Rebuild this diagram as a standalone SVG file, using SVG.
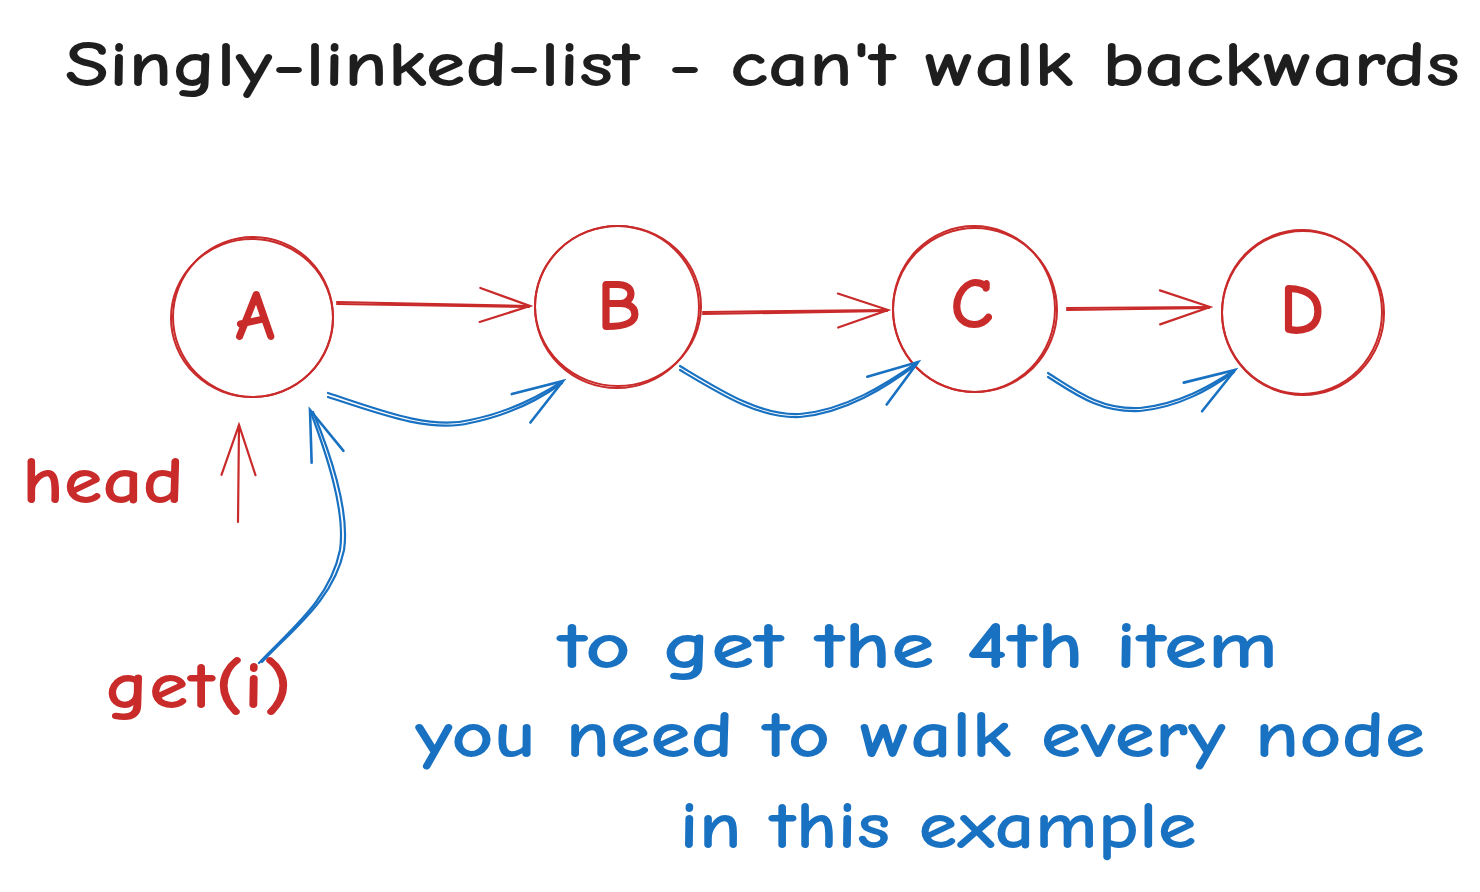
<svg xmlns="http://www.w3.org/2000/svg" width="1480" height="892" viewBox="0 0 1480 892">
<style>
text{font-family:"Comic Neue","Noto Sans","Liberation Sans",sans-serif}
.title{fill:#1e1e1e;font-size:64px;font-weight:600}
.red{fill:#c92a2a}
.blue{fill:#1971c2}
.lbl{font-size:72px;font-weight:bold;text-anchor:middle}
.note{font-size:66px;font-weight:600;text-anchor:middle}
.side{font-size:66px;font-weight:600}
.circ{fill:none;stroke:#c92a2a;stroke-width:2}
.ra{fill:none;stroke:#c92a2a;stroke-width:2.2;stroke-linecap:round}
.ba{fill:none;stroke:#1971c2;stroke-width:2.2;stroke-linecap:round}
</style>
<defs>
<marker id="hr" markerUnits="userSpaceOnUse" viewBox="-60 -30 70 60" refX="0" refY="0" markerWidth="70" markerHeight="60" orient="auto" overflow="visible">
<path d="M-50 -17 L0 0 L-50 17" fill="none" stroke="#c92a2a" stroke-width="2.2" stroke-linecap="round"/>
</marker>
<marker id="hb" markerUnits="userSpaceOnUse" viewBox="-60 -30 70 60" refX="0" refY="0" markerWidth="70" markerHeight="60" orient="auto" overflow="visible">
<path d="M-50 -17 L0 0 L-50 17" fill="none" stroke="#1971c2" stroke-width="2.6" stroke-linecap="round"/>
</marker>
</defs>
<rect width="1480" height="892" fill="#ffffff"/>
<text class="title" x="65" y="86" textLength="1395" lengthAdjust="spacingAndGlyphs">Singly-linked-list - can't walk backwards</text>

<g id="nodeA">
<ellipse class="circ" cx="253" cy="317" rx="80" ry="80"/>
<ellipse class="circ" cx="252" cy="318" rx="81" ry="79"/>
<text class="red lbl" x="255" y="340">A</text>
</g>
<g id="nodeB">
<ellipse class="circ" cx="617" cy="307" rx="82" ry="81"/>
<ellipse class="circ" cx="618" cy="306" rx="83" ry="80"/>
<text class="red lbl" x="619" y="330">B</text>
</g>
<g id="nodeC">
<ellipse class="circ" cx="975" cy="310" rx="82" ry="82"/>
<ellipse class="circ" cx="974" cy="309" rx="81" ry="83"/>
<text class="red lbl" x="972" y="328">C</text>
</g>
<g id="nodeD">
<ellipse class="circ" cx="1303" cy="313" rx="81" ry="82"/>
<ellipse class="circ" cx="1302" cy="312" rx="80" ry="82"/>
<text class="red lbl" x="1302" y="334">D</text>
</g>

<g id="labels">
<text class="red side" x="22" y="503" textLength="162" lengthAdjust="spacingAndGlyphs">head</text>
<text class="red side" x="105" y="708" textLength="187" lengthAdjust="spacingAndGlyphs">get(i)</text>
<text class="blue note" x="918" y="668" textLength="720" lengthAdjust="spacingAndGlyphs">to get the 4th item</text>
<text class="blue note" x="920" y="757" textLength="1010" lengthAdjust="spacingAndGlyphs">you need to walk every node</text>
<text class="blue note" x="938" y="848" textLength="517" lengthAdjust="spacingAndGlyphs">in this example</text>
</g>

<g id="connectors">
<path class="ra" d="M337 302 L530 306" marker-end="url(#hr)"/>
<path class="ra" d="M337 304 L529 307"/>
<path class="ra" d="M703 312 L888 310" marker-end="url(#hr)"/>
<path class="ra" d="M703 314 L887 311"/>
<path class="ra" d="M1067 308 L1210 307" marker-end="url(#hr)"/>
<path class="ra" d="M1067 310 L1209 308"/>
<path class="ra" d="M238 522 L239 425" marker-end="url(#hr)"/>

<path class="ba" d="M328 393 C380 410 430 430 470 420 C510 412 540 396 563 381" marker-end="url(#hb)"/>
<path class="ba" d="M328 397 C380 414 430 433 470 423 C510 415 540 399 562 383"/>
<path class="ba" d="M680 366 C720 390 760 416 800 414 C845 410 885 385 918 362" marker-end="url(#hb)"/>
<path class="ba" d="M680 370 C720 394 760 419 800 417 C845 413 885 388 917 364"/>
<path class="ba" d="M1048 373 C1075 390 1100 410 1140 408 C1180 404 1210 386 1235 370" marker-end="url(#hb)"/>
<path class="ba" d="M1048 377 C1075 394 1100 413 1140 411 C1180 407 1210 389 1234 372"/>
<path class="ba" d="M259 663 C290 630 330 600 340 550 C346 510 325 450 310 410" marker-end="url(#hb)"/>
<path class="ba" d="M262 662 C293 629 334 599 344 550 C350 510 329 450 313 412"/>
</g>
</svg>
